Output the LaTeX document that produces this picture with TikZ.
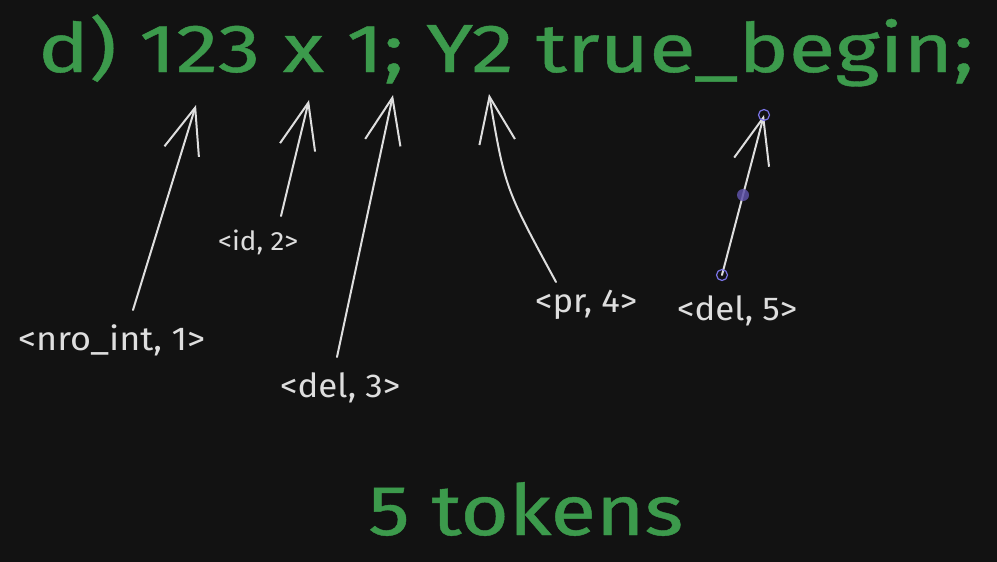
\documentclass[tikz,border=0pt]{standalone}
\usepackage{fontspec}
\setmainfont{Fira Sans}
\newfontfamily\heavy[FakeBold=0.6]{Fira Sans}
\usetikzlibrary{arrows.meta}
\definecolor{bgc}{HTML}{121212}
\definecolor{grn}{HTML}{3C9A4C}
\definecolor{wht}{HTML}{DEDEDE}
\definecolor{sel}{HTML}{7A74E6}
\definecolor{selfill}{HTML}{5E52A8}
\tikzset{
  title/.style={text=grn, inner sep=0pt, anchor=base west, font=\heavy},
  lbl/.style={text=wht, inner sep=0pt, anchor=base west},
  ptr/.style={draw=wht, line width=2pt, line cap=round,
    -{Straight Barb[length=46pt,width=36pt,line width=2pt]}},
  handle/.style={draw=sel, line width=1.2pt, fill=none},
}
\newcommand{\fitw}[3]{\resizebox{#1}{!}{\scalebox{1}[#2]{#3}}}
\begin{document}
\begin{tikzpicture}[x=1pt,y=-1pt]
\fill[bgc] (0,0) rectangle (997,562);
\useasboundingbox (0,0) rectangle (997,562);

\node[title] (head) at (38,72) {\fitw{935pt}{0.8}{d) 123 x 1; Y2 true\_begin;}};
\node[title] (count) at (368,535) {\fitw{315pt}{0.85}{5 tokens}};

\node[lbl] (l1) at (18,350) {\fitw{187pt}{0.92}{<nro\_int, 1>}};
\node[lbl] (l2) at (218,250) {\fitw{80pt}{0.95}{<id, 2>}};
\node[lbl] (l3) at (280,397) {\fitw{120pt}{0.95}{<del, 3>}};
\node[lbl] (l4) at (535,312) {\fitw{102pt}{0.95}{<pr, 4>}};
\node[lbl] (l5) at (677,320) {\fitw{120pt}{0.95}{<del, 5>}};

\coordinate (s1) at (133,310); \coordinate (e1) at (196,105);
\coordinate (s2) at (281,216); \coordinate (e2) at (309,100);
\coordinate (s3) at (337,357); \coordinate (e3) at (393,95);
\coordinate (s4) at (556,282); \coordinate (c4) at (505,188); \coordinate (e4) at (489,94);
\coordinate (s5) at (722,275); \coordinate (e5) at (764,115);
\coordinate (m5) at (743,195);

\draw[ptr] (s1) -- (e1);
\draw[ptr] (s2) -- (e2);
\draw[ptr] (s3) -- (e3);
\draw[ptr] (s4) .. controls (c4) .. (e4);
\draw[ptr] (s5) -- (e5);

\draw[handle] (e5) circle[radius=5.5];
\draw[handle] (s5) circle[radius=5.5];
\fill[selfill, opacity=0.85] (m5) circle[radius=6];
\end{tikzpicture}
\end{document}
